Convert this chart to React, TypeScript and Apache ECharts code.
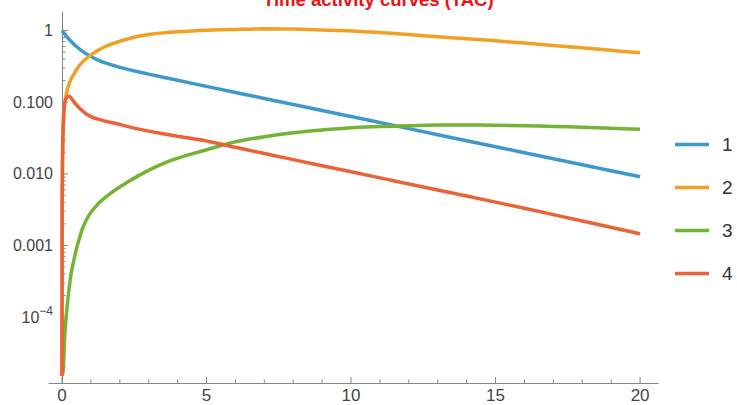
import React, { useEffect, useRef } from "react";
import * as echarts from "echarts";

const chartTitle = "Time activity curves (TAC)";
const seriesNames = ["1", "2", "3", "4"];
const seriesColors = ["#3d99cc", "#f2a024", "#74b336", "#eb6235"];

const tac1X = [0, 0.1, 0.25, 0.5, 0.75, 1, 1.25, 1.5, 2, 2.5, 3, 4, 5, 6, 7, 8, 10, 12, 14, 16, 18, 20];
const tac1Y = [1, 0.887, 0.753, 0.599, 0.5, 0.434, 0.388, 0.354, 0.307, 0.274, 0.247, 0.2024, 0.1665, 0.1371, 0.1129, 0.093, 0.0631, 0.0428, 0.029, 0.0197, 0.0134, 0.0091];

const tac2X = [0, 0.005, 0.01, 0.02, 0.04, 0.07, 0.1, 0.15, 0.2, 0.3, 0.4, 0.6, 0.8, 1, 1.25, 1.5, 2, 2.5, 3, 3.5, 4, 4.5, 5, 6, 7, 8, 9, 10, 11, 12, 13, 14, 15, 16, 17, 18, 19, 20];
const tac2Y = [1.5e-5, 0.002, 0.006, 0.018, 0.045, 0.08, 0.1, 0.13, 0.16, 0.205, 0.245, 0.325, 0.395, 0.455, 0.53, 0.6, 0.71, 0.81, 0.88, 0.93, 0.965, 0.99, 1.01, 1.04, 1.06, 1.05, 1.02, 0.99, 0.94, 0.88, 0.82, 0.77, 0.72, 0.67, 0.62, 0.575, 0.53, 0.49];

const tac3X = [0.03, 0.06, 0.1, 0.16, 0.25, 0.33, 0.42, 0.5, 0.6, 0.68, 0.8, 0.9, 1.0, 1.14, 1.3, 1.5, 1.83, 2.3, 2.76, 3.3, 3.8, 4.5, 5.3, 6, 7, 8, 9, 10, 11, 12, 13, 14, 15, 16, 17, 18, 19, 20];
const tac3Y = [1.6e-5, 2.5e-5, 6e-5, 1.2e-4, 2.6e-4, 4.4e-4, 6.5e-4, 9e-4, 1.25e-3, 1.6e-3, 2.1e-3, 2.5e-3, 2.9e-3, 3.4e-3, 4.0e-3, 4.7e-3, 5.9e-3, 7.8e-3, 0.01, 0.0128, 0.0155, 0.019, 0.0235, 0.028, 0.033, 0.0375, 0.041, 0.044, 0.046, 0.047, 0.048, 0.048, 0.0477, 0.047, 0.046, 0.0447, 0.0433, 0.042];

const tac4X = [0, 0.005, 0.01, 0.02, 0.04, 0.07, 0.1, 0.15, 0.2, 0.25, 0.3, 0.4, 0.5, 0.6, 0.8, 1, 1.25, 1.5, 2, 2.5, 3, 4, 5, 6, 8, 10, 12, 14, 16, 18, 20];
const tac4Y = [1.5e-5, 0.002, 0.006, 0.018, 0.045, 0.08, 0.1, 0.115, 0.12, 0.121, 0.117, 0.103, 0.092, 0.083, 0.0705, 0.063, 0.058, 0.0545, 0.049, 0.0435, 0.0395, 0.0335, 0.0288, 0.0235, 0.0158, 0.0107, 0.0072, 0.0049, 0.0033, 0.0022, 0.00146];

const xMajorTicks = [0, 5, 10, 15, 20];
const xMinorTicks = [1, 2, 3, 4, 6, 7, 8, 9, 11, 12, 13, 14, 16, 17, 18, 19];
const yMajorTicks = [1e-4, 1e-3, 1e-2, 1e-1, 1];
const yMinorTicks = [
  2e-5, 3e-5, 4e-5, 5e-5, 6e-5, 7e-5, 8e-5, 9e-5,
  2e-4, 3e-4, 4e-4, 5e-4, 6e-4, 7e-4, 8e-4, 9e-4,
  2e-3, 3e-3, 4e-3, 5e-3, 6e-3, 7e-3, 8e-3, 9e-3,
  0.02, 0.03, 0.04, 0.05, 0.06, 0.07, 0.08, 0.09,
  0.2, 0.3, 0.4, 0.5, 0.6, 0.7, 0.8, 0.9,
];
const yLabelText: Record<string, string> = {
  "0": "{b|1}",
  "-1": "{b|0.100}",
  "-2": "{b|0.010}",
  "-3": "{b|0.001}",
  "-4": "{b|10}{s|−4}",
};

const X_MIN = -0.45;
const X_MAX = 20.62;
const Y_MIN = 1.2e-5;
const Y_MAX = 1.82;

const zip = (xs: number[], ys: number[]) => xs.map((x, i) => [x, ys[i]]);

const AXIS_COLOR = "#858585";

function tickSeries(data: number[][], dir: "x" | "y", len: number) {
  return {
    type: "custom",
    coordinateSystem: "cartesian2d",
    xAxisIndex: 0,
    yAxisIndex: 0,
    silent: true,
    clip: false,
    z: 1,
    data,
    renderItem: (_params: any, api: any) => {
      const p = api.coord([api.value(0), api.value(1)]);
      const shape =
        dir === "y"
          ? { x1: p[0], y1: p[1], x2: p[0] + len, y2: p[1] }
          : { x1: p[0], y1: p[1], x2: p[0], y2: p[1] - len };
      return { type: "line", shape, style: { stroke: AXIS_COLOR, lineWidth: 1 } };
    },
  };
}

export default function App() {
  const ref = useRef<HTMLDivElement>(null);
  useEffect(() => {
    if (!ref.current) return;
    const chart = echarts.init(ref.current, undefined, { renderer: "svg" });
    const font = "'Liberation Sans', Arial, sans-serif";
    const labelColor = "#444";
    const data = [zip(tac1X, tac1Y), zip(tac2X, tac2Y), zip(tac3X, tac3Y), zip(tac4X, tac4Y)];
    const lineSeries = seriesNames.map((name, i) => ({
      name,
      type: "line",
      data: data[i],
      xAxisIndex: 0,
      yAxisIndex: 0,
      symbol: "none",
      smooth: 0.3,
      clip: true,
      z: 3,
      color: seriesColors[i],
      lineStyle: { width: 3.5, color: seriesColors[i] },
    }));
    chart.setOption({
      animation: false,
      backgroundColor: "#ffffff",
      title: {
        text: chartTitle,
        left: 263,
        top: -10,
        padding: 0,
        textStyle: { color: "#ee1111", fontSize: 18.5, fontWeight: "bold", fontFamily: font },
      },
      legend: {
        orient: "vertical",
        left: 670,
        top: 130,
        itemWidth: 34,
        itemHeight: 20,
        itemGap: 24,
        icon: "path://M0,0H34V3.5H0Z",
        data: seriesNames,
        textStyle: { fontSize: 19, color: "#333", fontFamily: font, padding: [0, 0, 0, 8] },
      },
      grid: { left: 49, right: 79, top: 12, bottom: 22, containLabel: false },
      xAxis: {
        type: "value",
        min: X_MIN,
        max: X_MAX,
        position: "bottom",
        splitLine: { show: false },
        axisLine: { onZero: false, lineStyle: { color: AXIS_COLOR, width: 1 } },
        axisTick: { show: false },
        axisLabel: {
          show: true,
          customValues: xMajorTicks,
          margin: 4,
          fontSize: 17,
          color: labelColor,
          fontFamily: font,
          formatter: (v: number) => String(Math.round(v)),
        },
      },
      yAxis: {
        type: "log",
        logBase: 10,
        min: Y_MIN,
        max: Y_MAX,
        position: "left",
        splitLine: { show: false },
        axisLine: { onZero: true, lineStyle: { color: AXIS_COLOR, width: 1 } },
        axisTick: { show: false },
        axisLabel: {
          show: true,
          customValues: yMajorTicks,
          margin: -4,
          color: labelColor,
          fontFamily: font,
          formatter: (v: number) => yLabelText[String(Math.round(Math.log10(v)))] || "",
          rich: {
            b: { fontSize: 16, color: labelColor, fontFamily: font, lineHeight: 24 },
            s: { fontSize: 12, color: labelColor, fontFamily: font, lineHeight: 12, verticalAlign: "top" },
          },
        },
      },
      series: [
        tickSeries(yMajorTicks.map((v) => [0, v]), "y", 6),
        tickSeries(yMinorTicks.map((v) => [0, v]), "y", 3.5),
        tickSeries(xMajorTicks.map((v) => [v, Y_MIN]), "x", 6),
        tickSeries(xMinorTicks.map((v) => [v, Y_MIN]), "x", 3.5),
        ...lineSeries,
      ],
    });
    return () => chart.dispose();
  }, []);
  return (
    <div
      ref={ref}
      style={{ position: "absolute", left: 0, top: 0, width: 737, height: 405 }}
    />
  );
}
